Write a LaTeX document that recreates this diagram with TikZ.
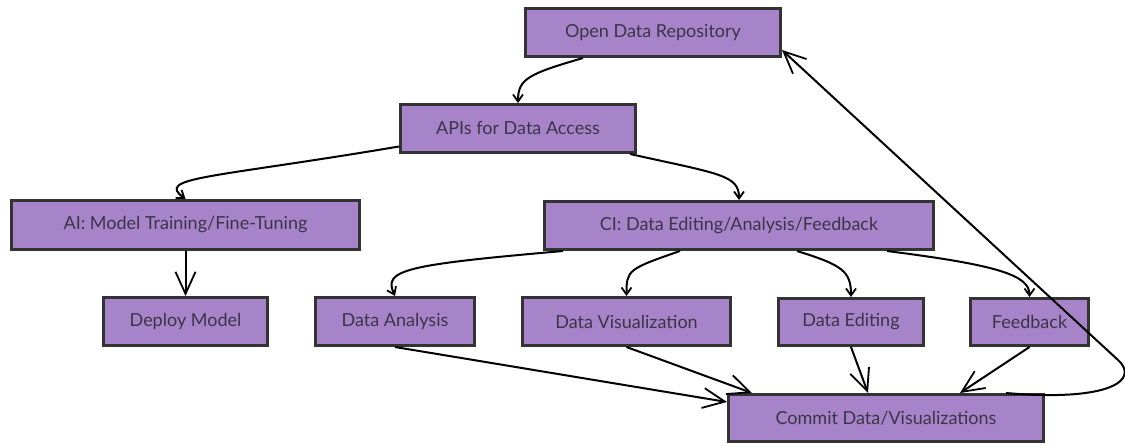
\documentclass[tikz,border=0pt]{standalone}
\usepackage{fontspec}
\setmainfont{Lato}
\usetikzlibrary{arrows.meta}
\definecolor{boxfill}{HTML}{A784C9}
\definecolor{boxline}{HTML}{333333}
\definecolor{txt}{HTML}{3B3548}
\tikzset{
  box/.style={draw=boxline, line width=3pt, fill=boxfill, text=txt, inner sep=0pt,
    font=\fontsize{18}{21}\selectfont},
  small/.style={line width=2pt, -{Straight Barb[length=7pt,width=10pt,line width=1.8pt]}},
  big/.style={line width=2pt, -{Straight Barb[length=22pt,width=20pt,line width=1.8pt]}},
}
\begin{document}
\begin{tikzpicture}[x=1pt,y=-1pt]
\useasboundingbox (0,0) rectangle (1125,445);
\node[box, minimum width=255pt, minimum height=48pt] (odr) at (653,32.5) {Open Data Repository};
\node[box, minimum width=235pt, minimum height=48pt] (api) at (518,128.5) {APIs for Data Access};
\node[box, minimum width=348pt, minimum height=49pt] (ai) at (185.5,225) {AI: Model Training/Fine-Tuning};
\node[box, minimum width=389pt, minimum height=48pt] (ci) at (739,225.5) {CI: Data Editing/Analysis/Feedback};
\node[box, minimum width=164pt, minimum height=48pt] (dep) at (185.5,321.5) {Deploy Model};
\node[box, minimum width=159pt, minimum height=48pt] (da) at (395,321.5) {Data Analysis};
\node[box, minimum width=208pt, minimum height=48pt] (dv) at (626.5,321.5) {Data Visualization};
\node[box, minimum width=145pt, minimum height=47pt] (de) at (851,322) {Data Editing};
\node[box, minimum width=118pt, minimum height=47pt] (fb) at (1029.5,322) {Feedback};
\node[box, minimum width=315pt, minimum height=47pt] (cm) at (886,418) {Commit Data/Visualizations};
\coordinate (loopturn) at (1118,360);

\draw[small] ([xshift=-70pt]odr.south) .. controls +(-55,16) and +(0,-24) .. (api.north);
\draw[small] ([yshift=-18pt]api.west) .. controls +(-190,32) and +(-30,-22) .. (ai.north);
\draw[small] ([xshift=112pt]api.south) .. controls +(90,20) and +(0,-25) .. (ci.north);
\draw[big] (ai.south) -- (dep.north);
\draw[small] ([xshift=-176pt]ci.south) .. controls +(-160,14) and +(-12,-26) .. (da.north);
\draw[small] ([xshift=-59pt]ci.south) .. controls +(-52,18) and +(0,-26) .. (dv.north);
\draw[small] ([xshift=58pt]ci.south) .. controls +(45,14) and +(0,-26) .. (de.north);
\draw[small] ([xshift=148pt]ci.south) .. controls +(110,14) and +(0,-22) .. (fb.north);
\draw[big] (da.south) -- ([yshift=16pt]cm.west);
\draw[big] (dv.south) -- ([xshift=-134pt]cm.north);
\draw[big] (de.south) -- ([xshift=-18pt]cm.north);
\draw[big] (fb.south) -- ([xshift=74pt]cm.north);
\draw[big] ([xshift=120pt]cm.north) .. controls (1110,402) and (1140,380) .. (loopturn) -- ([yshift=8pt]odr.south east);
\end{tikzpicture}
\end{document}
